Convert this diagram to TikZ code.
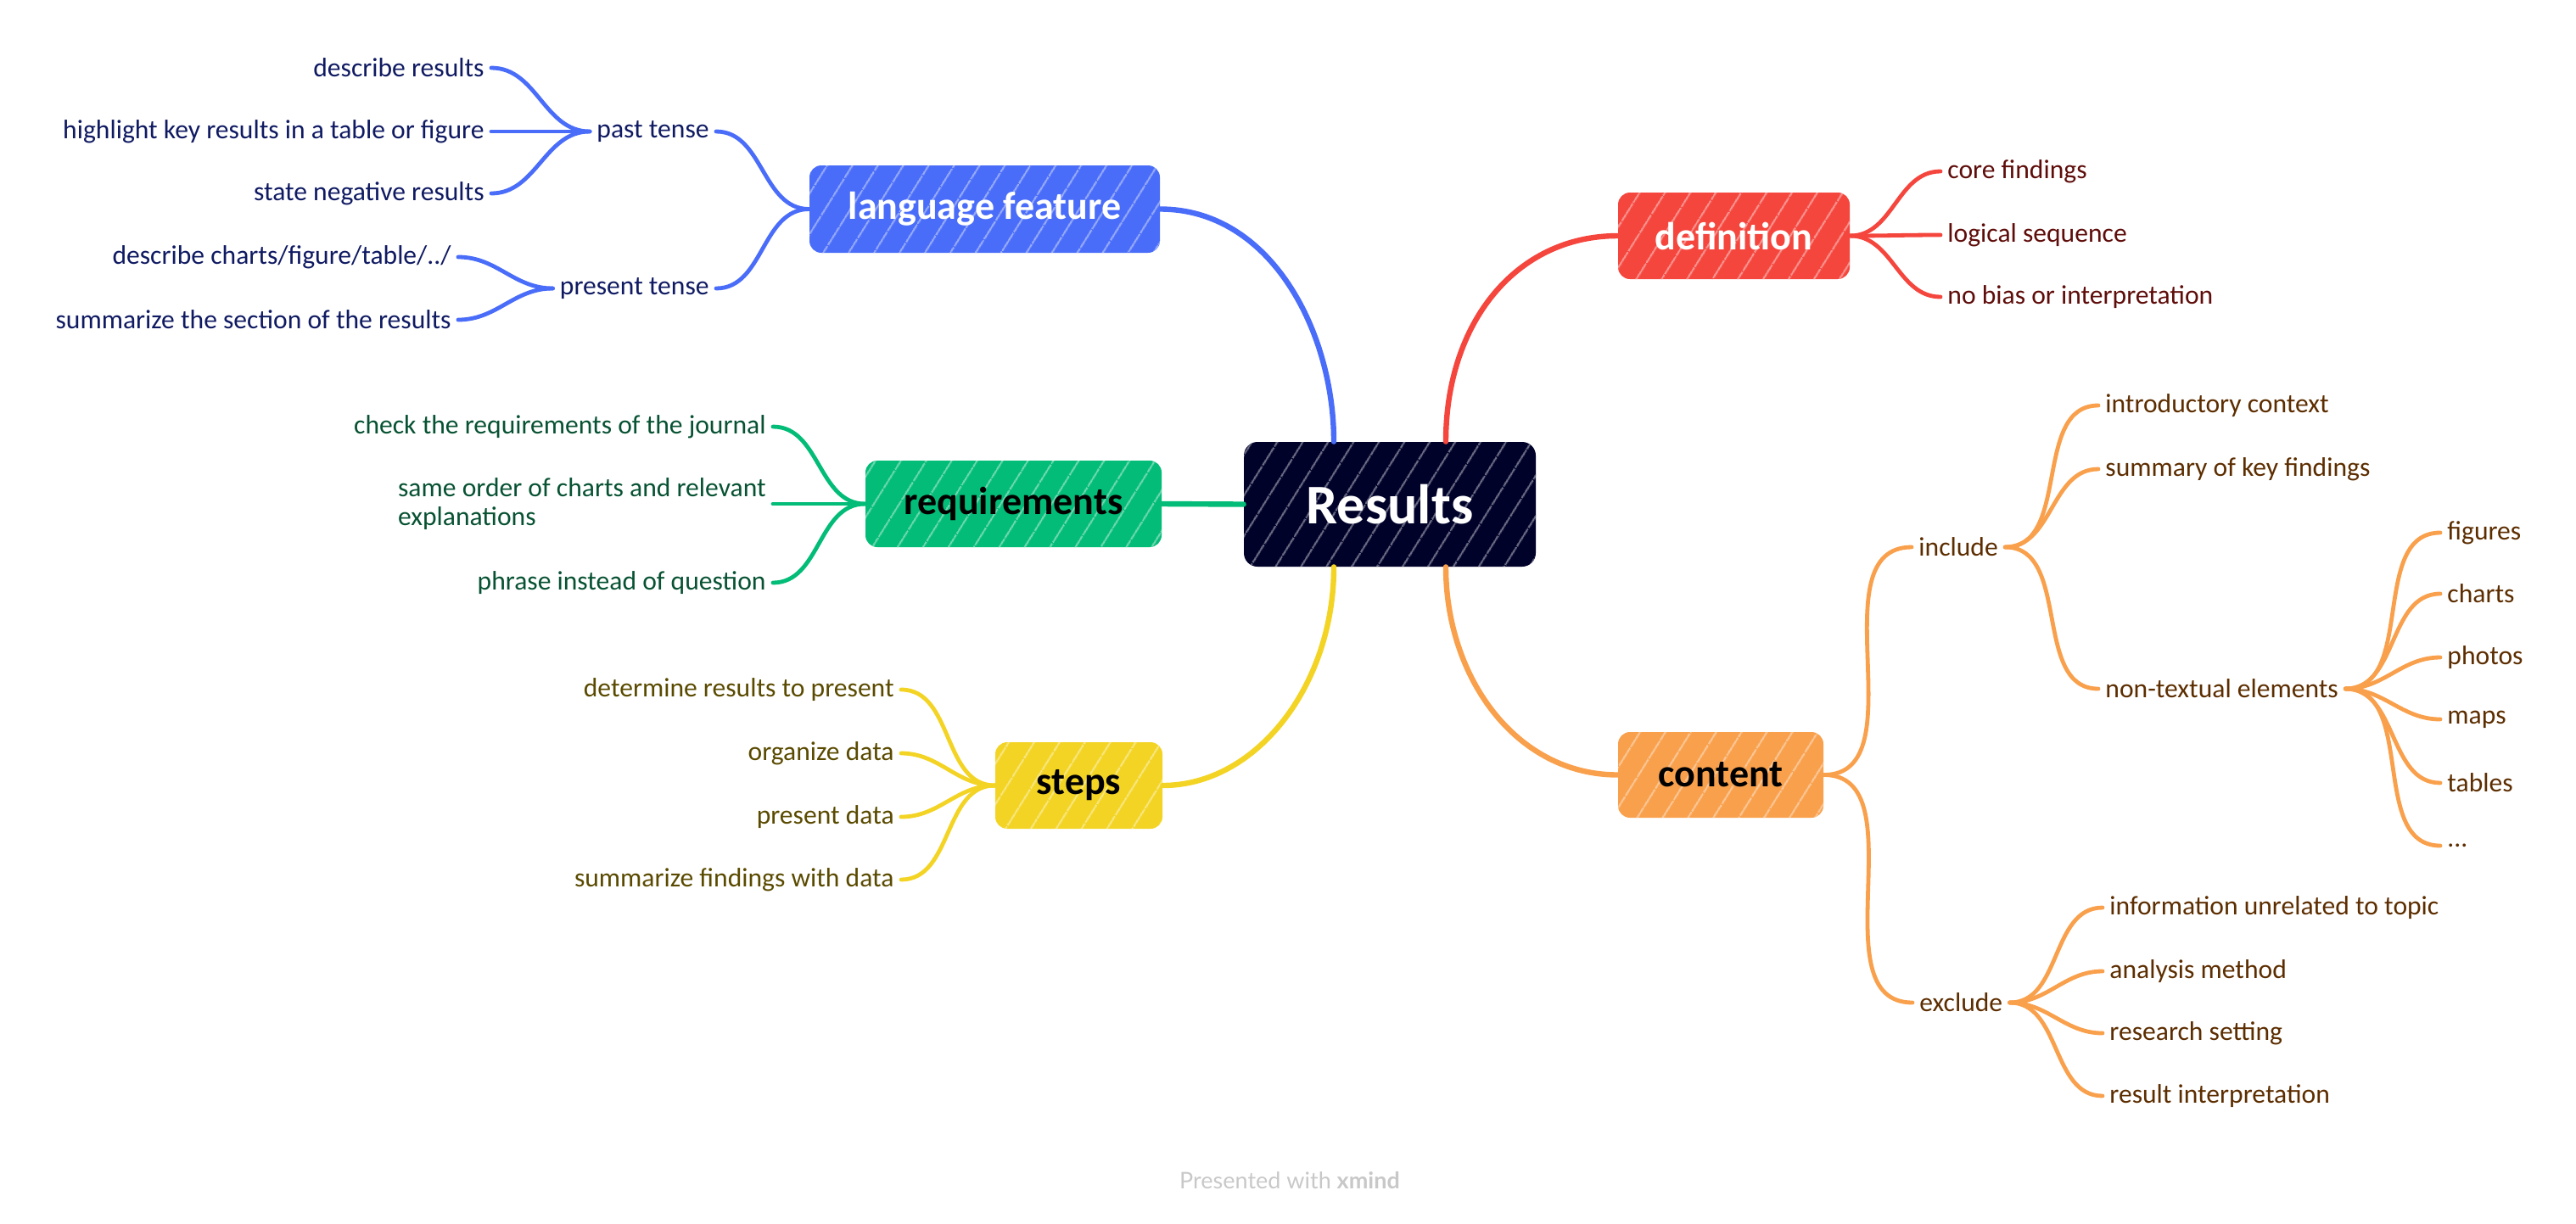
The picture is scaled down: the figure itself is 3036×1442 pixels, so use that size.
\documentclass[tikz,border=0pt]{standalone}
\usepackage{fontspec}
\setmainfont{Carlito}
\newfontfamily\wmfont{Lato}
\usetikzlibrary{calc,patterns.meta}
\definecolor{cNavy}{HTML}{01022A}
\definecolor{cBlue}{HTML}{4A6DF9}
\definecolor{cRed}{HTML}{F5463E}
\definecolor{cGreen}{HTML}{02BC77}
\definecolor{cYellow}{HTML}{F3D424}
\definecolor{cOrange}{HTML}{F9A04C}
\definecolor{tBlue}{HTML}{0F1A62}
\definecolor{tRed}{HTML}{5E0D0A}
\definecolor{tGreen}{HTML}{075233}
\definecolor{tYellow}{HTML}{5A4A00}
\definecolor{tOrange}{HTML}{5C2D00}
\definecolor{wmgray}{HTML}{C8C8C8}
\begin{document}
\begin{tikzpicture}[x=0.5pt,y=-0.5pt,
  topic/.style={rounded corners=7pt, inner sep=0pt, align=center,
     font=\fontsize{23}{27}\selectfont\bfseries, fill=#1,
     postaction={pattern={Lines[angle=58,distance=13pt,line width=0.9pt]}, pattern color=white!50!#1}},
  lbl/.style={inner xsep=4pt, inner ysep=1pt, font=\fontsize{15.8}{17}\selectfont, text=#1},
  conn/.style={draw=#1, line width=2.4pt, line cap=round},
  mainconn/.style={draw=#1, line width=3.2pt, line cap=round}]
\useasboundingbox (0,0) rectangle (3036,1442);

% central and main topics
\node[topic=cNavy, minimum width=172pt, minimum height=73.5pt, text=white,
      font=\fontsize{33}{38}\selectfont\bfseries, rounded corners=8pt] (res) at (1638,594.5) {Results};
\node[topic=cBlue, minimum width=206.5pt, minimum height=51.5pt, text=white] (lf) at (1160.5,246.5) {language feature};
\node[topic=cRed, minimum width=136.5pt, minimum height=51pt, text=white] (def) at (2043.5,278) {definition};
\node[topic=cGreen, minimum width=174.5pt, minimum height=51pt, text=black] (req) at (1194.5,594) {requirements};
\node[topic=cYellow, minimum width=98.5pt, minimum height=51pt, text=black] (stp) at (1271.5,926) {steps};
\node[topic=cOrange, minimum width=121pt, minimum height=50.5pt, text=black] (cnt) at (2028,913.5) {content};

% main connectors
\draw[mainconn=cBlue] (lf.east) .. controls ($(lf.east)+(130,0)$) and ($(res.north)+(-66,-130)$) .. ($(res.north)+(-66,0)$);
\draw[mainconn=cRed] ($(res.north)+(66,0)$) .. controls ($(res.north)+(66,-140)$) and ($(def.west)+(-120,0)$) .. (def.west);
\draw[mainconn=cGreen] (res.west) -- (req.east);
\draw[mainconn=cYellow] ($(res.south)+(-66,0)$) .. controls ($(res.south)+(-66,140)$) and ($(stp.east)+(110,0)$) .. (stp.east);
\draw[mainconn=cOrange] ($(res.south)+(66,0)$) .. controls ($(res.south)+(66,130)$) and ($(cnt.west)+(-120,0)$) .. (cnt.west);

% language feature branch
\node[lbl=tBlue, anchor=east] (past) at (844,155) {past tense};
\node[lbl=tBlue, anchor=east] (pres) at (844,340) {present tense};
\node[lbl=tBlue, anchor=east] (b1) at (579,80) {describe results};
\node[lbl=tBlue, anchor=east] (b2) at (579,155) {highlight key results in a table or figure};
\node[lbl=tBlue, anchor=east] (b3) at (579,228) {state negative results};
\node[lbl=tBlue, anchor=east] (b4) at (540,303) {describe charts/figure/table/../};
\node[lbl=tBlue, anchor=east] (b5) at (540,377) {summarize the section of the results};
\foreach \c in {past,pres} \draw[conn=cBlue] (lf.west) to[out=180,in=0] (\c.east);
\foreach \c in {b1,b2,b3} \draw[conn=cBlue] (past.west) to[out=180,in=0] (\c.east);
\foreach \c in {b4,b5} \draw[conn=cBlue] (pres.west) to[out=180,in=0] (\c.east);

% definition branch
\node[lbl=tRed, anchor=west] (r1) at (2287,202) {core findings};
\node[lbl=tRed, anchor=west] (r2) at (2287,277) {logical sequence};
\node[lbl=tRed, anchor=west] (r3) at (2287,350) {no bias or interpretation};
\foreach \c in {r1,r2,r3} \draw[conn=cRed] (def.east) to[out=0,in=180] (\c.west);

% requirements branch
\node[lbl=tGreen, anchor=east] (g1) at (911,503) {check the requirements of the journal};
\node[lbl=tGreen, anchor=east, align=left] (g2) at (911,594) {same order of charts and relevant\\explanations};
\node[lbl=tGreen, anchor=east] (g3) at (911,687) {phrase instead of question};
\foreach \c in {g1,g2,g3} \draw[conn=cGreen] (req.west) to[out=180,in=0] (\c.east);

% steps branch
\node[lbl=tYellow, anchor=east] (y1) at (1062,813) {determine results to present};
\node[lbl=tYellow, anchor=east] (y2) at (1062,888) {organize data};
\node[lbl=tYellow, anchor=east] (y3) at (1062,963) {present data};
\node[lbl=tYellow, anchor=east] (y4) at (1062,1037) {summarize findings with data};
\foreach \c in {y1,y2,y3,y4} \draw[conn=cYellow] (stp.west) to[out=180,in=0] (\c.east);

% content branch
\node[lbl=tOrange, anchor=west] (inc) at (2253,645) {include};
\node[lbl=tOrange, anchor=west] (exc) at (2254,1182) {exclude};
\foreach \c in {inc,exc} \draw[conn=cOrange] (cnt.east) to[out=0,in=180] (\c.west);

\node[lbl=tOrange, anchor=west] (o1) at (2473,478) {introductory context};
\node[lbl=tOrange, anchor=west] (o2) at (2473,553) {summary of key findings};
\node[lbl=tOrange, anchor=west] (o3) at (2473,812) {non-textual elements};
\foreach \c in {o1,o2,o3} \draw[conn=cOrange] (inc.east) to[out=0,in=180] (\c.west);

\node[lbl=tOrange, anchor=west] (n1) at (2876,628) {figures};
\node[lbl=tOrange, anchor=west] (n2) at (2876,700) {charts};
\node[lbl=tOrange, anchor=west] (n3) at (2876,775) {photos};
\node[lbl=tOrange, anchor=west] (n4) at (2876,848) {maps};
\node[lbl=tOrange, anchor=west] (n5) at (2876,923) {tables};
\node[lbl=tOrange, anchor=west] (n6) at (2876,997) {...};
\foreach \c in {n1,n2,n3,n4,n5,n6} \draw[conn=cOrange] (o3.east) to[out=0,in=180] (\c.west);

\node[lbl=tOrange, anchor=west] (e1) at (2478,1070) {information unrelated to topic};
\node[lbl=tOrange, anchor=west] (e2) at (2478,1145) {analysis method};
\node[lbl=tOrange, anchor=west] (e3) at (2478,1218) {research setting};
\node[lbl=tOrange, anchor=west] (e4) at (2478,1292) {result interpretation};
\foreach \c in {e1,e2,e3,e4} \draw[conn=cOrange] (exc.east) to[out=0,in=180] (\c.west);

% watermark
\node[font=\wmfont\fontsize{13.5}{15}\selectfont, text=wmgray] (wm) at (1520,1392) {Presented with \textbf{xmind}};
\end{tikzpicture}
\end{document}
